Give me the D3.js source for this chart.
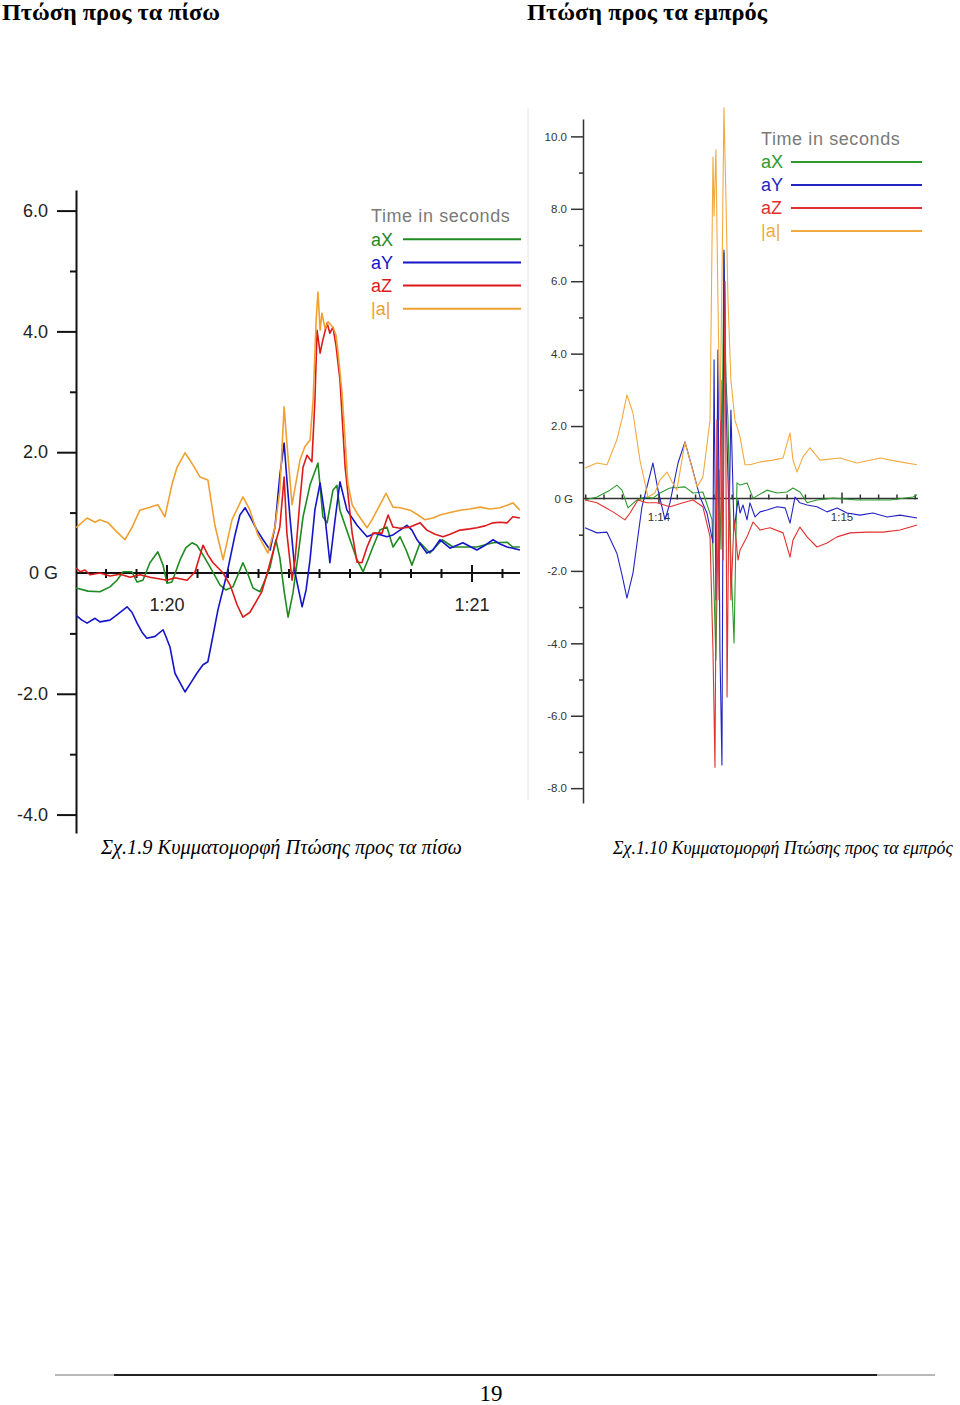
<!DOCTYPE html>
<html><head><meta charset="utf-8">
<script src="https://cdn.jsdelivr.net/npm/d3@7"></script>
<style>body{margin:0;background:#fff}svg{display:block}</style>
</head><body>
<svg id="c" width="960" height="1405"></svg>
<script>
// ---------------- DATA ----------------
const titles = ["Πτώση προς τα πίσω", "Πτώση προς τα εμπρός"];
const captions = ["Σχ.1.9 Κυμματομορφή Πτώσης προς τα πίσω", "Σχ.1.10 Κυμματομορφή Πτώσης προς τα εμπρός"];
const pageNumber = "19";
const legendTitle = "Time in seconds";
const seriesNames = ["aX", "aY", "aZ", "|a|"];

// Left chart (backward fall): y ticks, x ticks (seconds)
const backYMajor = [-4, -2, 2, 4, 6];
const backYLabels = ["-4.0", "-2.0", "2.0", "4.0", "6.0"];
const backYMinor = [-3, -1, 1, 3, 5];
const backXMajor = [80, 81];
const backXLabels = ["1:20", "1:21"];
const backXMinor = [79.8, 79.9, 80.1, 80.2, 80.3, 80.4, 80.5, 80.6, 80.7, 80.8, 80.9, 81.1];

// Right chart (forward fall)
const frontYMajor = [-8, -6, -4, -2, 2, 4, 6, 8, 10];
const frontYLabels = ["-8.0", "-6.0", "-4.0", "-2.0", "2.0", "4.0", "6.0", "8.0", "10.0"];
const frontYMinor = [-7, -5, -3, -1, 1, 3, 5, 7, 9];
const frontXMajor = [74, 75];
const frontXLabels = ["1:14", "1:15"];
const frontXMinor = [73.6, 73.7, 73.8, 73.9, 74.1, 74.2, 74.3, 74.4, 74.5, 74.6, 74.7, 74.8, 74.9, 75.1, 75.2, 75.3, 75.4];

// Series: [time (s), acceleration (G)]
const backAX = [[79.702,-0.25],[79.741,-0.30],[79.780,-0.31],[79.813,-0.23],[79.836,-0.12],[79.856,0.02],[79.885,0.02],[79.902,-0.15],[79.921,-0.12],[79.944,0.17],[79.970,0.35],[79.987,0.13],[80.000,-0.17],[80.016,-0.15],[80.043,0.22],[80.062,0.42],[80.082,0.50],[80.098,0.46],[80.118,0.30],[80.141,0.10],[80.174,-0.20],[80.193,-0.28],[80.216,-0.23],[80.249,0.17],[80.266,-0.03],[80.282,-0.25],[80.305,-0.31],[80.321,-0.12],[80.338,0.10],[80.357,0.55],[80.370,0.25],[80.384,-0.30],[80.397,-0.73],[80.413,-0.33],[80.430,0.30],[80.446,0.93],[80.469,1.46],[80.495,1.82],[80.511,0.93],[80.525,0.83],[80.544,1.37],[80.557,1.45],[80.567,1.04],[80.600,0.55],[80.623,0.22],[80.643,0.02],[80.659,0.22],[80.675,0.43],[80.698,0.71],[80.721,0.76],[80.741,0.43],[80.764,0.60],[80.784,0.38],[80.803,0.13],[80.830,0.50],[80.862,0.33],[80.902,0.55],[80.938,0.43],[80.977,0.43],[81.016,0.43],[81.069,0.50],[81.115,0.51],[81.134,0.43],[81.157,0.43]];
const backAY = [[79.702,-0.70],[79.721,-0.78],[79.738,-0.83],[79.764,-0.75],[79.780,-0.81],[79.813,-0.78],[79.839,-0.68],[79.869,-0.56],[79.885,-0.65],[79.902,-0.83],[79.918,-0.98],[79.934,-1.08],[79.961,-1.05],[79.987,-0.94],[79.997,-1.06],[80.010,-1.23],[80.026,-1.66],[80.043,-1.82],[80.059,-1.97],[80.079,-1.81],[80.098,-1.66],[80.118,-1.52],[80.134,-1.47],[80.148,-1.11],[80.167,-0.61],[80.197,0.00],[80.223,0.63],[80.239,0.96],[80.256,1.08],[80.275,0.91],[80.295,0.71],[80.315,0.55],[80.338,0.38],[80.354,0.76],[80.370,1.62],[80.384,2.15],[80.393,1.55],[80.403,0.93],[80.420,0.00],[80.443,-0.56],[80.456,-0.28],[80.469,0.22],[80.485,1.05],[80.502,1.49],[80.518,0.93],[80.534,0.17],[80.551,0.88],[80.567,1.51],[80.590,1.04],[80.623,0.79],[80.656,0.60],[80.682,0.66],[80.721,0.60],[80.741,0.63],[80.764,0.71],[80.787,0.79],[80.803,0.71],[80.820,0.55],[80.852,0.33],[80.872,0.38],[80.895,0.55],[80.928,0.41],[80.970,0.50],[81.016,0.38],[81.043,0.46],[81.069,0.55],[81.092,0.48],[81.115,0.43],[81.134,0.41],[81.157,0.38]];
const backAZ = [[79.702,0.08],[79.715,0.02],[79.731,0.05],[79.748,-0.03],[79.780,0.00],[79.813,-0.05],[79.846,-0.02],[79.879,-0.07],[79.911,-0.03],[79.944,-0.07],[79.977,-0.10],[80.000,-0.12],[80.026,-0.08],[80.066,-0.12],[80.092,0.02],[80.118,0.46],[80.134,0.30],[80.151,0.17],[80.184,0.00],[80.207,-0.20],[80.230,-0.53],[80.249,-0.73],[80.272,-0.65],[80.295,-0.45],[80.311,-0.31],[80.338,0.17],[80.370,0.76],[80.384,1.59],[80.393,0.66],[80.410,-0.12],[80.420,0.22],[80.436,1.21],[80.446,1.75],[80.459,1.95],[80.475,1.84],[80.485,2.86],[80.492,4.02],[80.502,3.64],[80.511,3.86],[80.525,4.14],[80.534,3.97],[80.544,4.07],[80.554,3.77],[80.567,3.20],[80.584,1.75],[80.607,0.66],[80.623,0.18],[80.639,0.17],[80.656,0.43],[80.675,0.66],[80.705,0.66],[80.725,0.96],[80.741,0.76],[80.764,0.74],[80.797,0.76],[80.830,0.83],[80.852,0.71],[80.879,0.64],[80.905,0.60],[80.928,0.64],[80.961,0.71],[80.993,0.73],[81.016,0.75],[81.043,0.78],[81.069,0.83],[81.092,0.84],[81.115,0.83],[81.134,0.93],[81.157,0.91]];
const backA = [[79.702,0.75],[79.738,0.91],[79.764,0.84],[79.780,0.88],[79.807,0.83],[79.830,0.71],[79.862,0.55],[79.885,0.75],[79.911,1.04],[79.944,1.09],[79.970,1.13],[79.993,0.93],[80.016,1.46],[80.033,1.75],[80.059,1.99],[80.085,1.79],[80.108,1.59],[80.134,1.54],[80.157,0.79],[80.184,0.22],[80.213,0.88],[80.249,1.26],[80.272,1.04],[80.298,0.63],[80.331,0.33],[80.354,0.76],[80.370,1.37],[80.384,2.75],[80.393,2.15],[80.410,1.13],[80.436,1.87],[80.452,2.09],[80.469,2.20],[80.479,2.86],[80.489,4.19],[80.495,4.65],[80.502,4.02],[80.508,4.30],[80.518,4.05],[80.528,4.16],[80.544,4.07],[80.554,3.94],[80.561,3.64],[80.574,2.98],[80.584,2.20],[80.593,1.49],[80.607,1.13],[80.623,0.99],[80.656,0.75],[80.672,0.88],[80.689,1.04],[80.718,1.32],[80.741,1.09],[80.764,1.08],[80.797,1.04],[80.823,0.96],[80.846,0.88],[80.872,0.91],[80.895,0.96],[80.928,1.00],[80.961,1.04],[80.993,1.06],[81.026,1.09],[81.059,1.06],[81.092,1.08],[81.115,1.12],[81.134,1.16],[81.148,1.09],[81.157,1.04]];

const frontAX = [[73.596,-0.04],[73.661,0.04],[73.732,0.23],[73.770,0.37],[73.798,0.23],[73.831,-0.26],[73.880,-0.04],[73.923,0.04],[73.967,0.01],[74.005,0.15],[74.060,0.29],[74.142,0.32],[74.186,0.15],[74.240,0.18],[74.290,-0.59],[74.311,-4.46],[74.328,0.79],[74.339,-1.40],[74.355,6.78],[74.366,3.27],[74.377,2.17],[74.393,-1.70],[74.410,-3.99],[74.426,0.43],[74.443,0.37],[74.481,0.43],[74.514,0.01],[74.590,0.23],[74.645,0.15],[74.699,0.18],[74.732,0.29],[74.770,0.18],[74.809,-0.12],[74.863,-0.04],[74.951,0.01],[75.082,-0.04],[75.262,-0.04],[75.388,0.04],[75.410,0.10]];
const frontAY = [[73.596,-0.81],[73.661,-0.95],[73.716,-0.93],[73.770,-1.51],[73.798,-2.11],[73.825,-2.75],[73.858,-2.06],[73.907,-0.23],[73.967,0.98],[73.995,0.23],[74.033,-0.59],[74.060,-0.12],[74.104,0.98],[74.142,1.56],[74.180,0.87],[74.224,0.04],[74.262,-0.40],[74.295,-1.23],[74.301,3.83],[74.311,-2.80],[74.322,4.10],[74.333,-4.19],[74.344,-7.36],[74.355,6.86],[74.366,2.72],[74.383,-0.59],[74.393,2.44],[74.410,-0.87],[74.432,-0.04],[74.443,-0.40],[74.459,-0.18],[74.481,-0.59],[74.497,-0.12],[74.525,-0.51],[74.552,-0.37],[74.590,-0.32],[74.645,-0.23],[74.689,-0.26],[74.716,-0.68],[74.743,0.04],[74.770,-0.12],[74.809,-0.18],[74.863,-0.23],[74.918,-0.37],[74.973,-0.26],[75.027,-0.40],[75.098,-0.46],[75.169,-0.40],[75.246,-0.51],[75.317,-0.46],[75.410,-0.54]];
const frontAZ = [[73.596,-0.04],[73.661,-0.12],[73.749,-0.37],[73.814,-0.59],[73.842,-0.40],[73.885,-0.04],[73.934,-0.12],[73.989,-0.12],[74.060,-0.23],[74.131,-0.12],[74.186,-0.04],[74.240,-0.23],[74.279,-1.06],[74.295,-4.18],[74.306,-7.42],[74.317,2.17],[74.328,-2.80],[74.339,3.27],[74.350,-1.70],[74.361,6.0],[74.372,-5.48],[74.383,0.51],[74.393,-2.80],[74.410,-0.59],[74.432,-1.70],[74.443,-1.42],[74.481,-1.06],[74.514,-0.65],[74.552,-0.87],[74.607,-0.81],[74.678,-0.95],[74.716,-1.62],[74.732,-1.15],[74.770,-0.79],[74.809,-1.06],[74.863,-1.34],[74.918,-1.23],[74.973,-1.06],[75.044,-0.95],[75.137,-0.93],[75.224,-0.93],[75.317,-0.87],[75.410,-0.73]];
const frontA = [[73.596,0.84],[73.661,0.98],[73.716,0.93],[73.770,1.62],[73.798,2.20],[73.825,2.86],[73.858,2.36],[73.896,1.06],[73.940,0.04],[73.978,0.15],[74.005,0.51],[74.044,0.73],[74.071,0.46],[74.098,0.23],[74.142,1.56],[74.169,1.06],[74.208,0.32],[74.240,0.59],[74.279,2.17],[74.295,9.43],[74.301,7.8],[74.311,9.63],[74.322,5.48],[74.333,2.17],[74.344,6.0],[74.355,10.79],[74.366,8.25],[74.377,5.48],[74.393,3.27],[74.415,2.17],[74.432,1.89],[74.443,1.70],[74.470,0.93],[74.497,0.93],[74.552,1.01],[74.623,1.06],[74.678,1.12],[74.716,1.81],[74.732,1.06],[74.754,0.73],[74.787,1.15],[74.825,1.40],[74.880,1.06],[74.989,1.12],[75.082,0.98],[75.208,1.12],[75.317,1.01],[75.410,0.93]];

// ---------------- DRAW ----------------
const svg = d3.select('#c');
const colorsBack = ["#1f8a1f", "#1414c8", "#dd1a1a", "#f0a030"];
const colorsFront = ["#2e9a2e", "#2424c4", "#e23030", "#f2aa40"];

// titles
svg.append('text').attr('x', 2).attr('y', 20).attr('font-family', 'Liberation Serif').attr('font-weight', 'bold')
  .attr('font-size', 24).attr('textLength', 218).attr('lengthAdjust', 'spacingAndGlyphs').text(titles[0]);
svg.append('text').attr('x', 527).attr('y', 20).attr('font-family', 'Liberation Serif').attr('font-weight', 'bold')
  .attr('font-size', 24).attr('textLength', 240).attr('lengthAdjust', 'spacingAndGlyphs').text(titles[1]);

// separator between pictures
svg.append('line').attr('x1', 528).attr('x2', 528).attr('y1', 108).attr('y2', 800).attr('stroke', '#e4e4e4').attr('stroke-width', 1);

function panel(cfg) {
  const g = svg.append('g');
  const x = d3.scaleLinear().domain(cfg.xDomain).range(cfg.xRange);
  const y = d3.scaleLinear().domain(cfg.yDomain).range(cfg.yRange);
  const y0 = y(0);

  const ax = g.append('g').attr('transform', `translate(${cfg.xRange[0]},0)`)
    .call(d3.axisLeft(y).tickValues(cfg.yMajor).tickFormat((d, i) => cfg.yLabels[i])
      .tickSize(cfg.majorTick).tickSizeOuter(0).tickPadding(cfg.pad));
  ax.select('.domain').attr('stroke', cfg.axisColor).attr('stroke-width', cfg.axisW);
  ax.selectAll('.tick line').attr('stroke', cfg.axisColor).attr('stroke-width', cfg.axisW);
  ax.selectAll('.tick text').attr('font-family', 'Liberation Sans').attr('font-size', cfg.labelSize).attr('fill', cfg.labelColor);
  const mn = g.append('g').attr('transform', `translate(${cfg.xRange[0]},0)`)
    .call(d3.axisLeft(y).tickValues(cfg.yMinor).tickFormat('').tickSize(cfg.minorTick).tickSizeOuter(0));
  mn.select('.domain').remove();
  mn.selectAll('.tick line').attr('stroke', cfg.axisColor).attr('stroke-width', cfg.axisW);
  g.append('text').attr('x', cfg.zeroLabelX).attr('y', y0).attr('dy', '0.35em').attr('text-anchor', 'end')
    .attr('font-family', 'Liberation Sans').attr('font-size', cfg.labelSize).attr('fill', cfg.labelColor).text('0 G');

  g.append('line').attr('x1', cfg.xRange[0]).attr('x2', cfg.xRange[1]).attr('y1', y0).attr('y2', y0)
    .attr('stroke', cfg.axisColor).attr('stroke-width', cfg.axisW);
  g.selectAll(null).data(cfg.xMinor).join('line')
    .attr('x1', d => x(d)).attr('x2', d => x(d)).attr('y1', y0 - cfg.xMinorUp).attr('y2', y0 + cfg.xMinorDown)
    .attr('stroke', cfg.axisColor).attr('stroke-width', cfg.axisW);
  g.selectAll(null).data(cfg.xMajor).join('line')
    .attr('x1', d => x(d)).attr('x2', d => x(d)).attr('y1', y0 - cfg.xMajorUp).attr('y2', y0 + cfg.xMajorDown)
    .attr('stroke', cfg.axisColor).attr('stroke-width', cfg.axisW);
  g.selectAll(null).data(cfg.xMajor).join('text')
    .attr('x', d => x(d)).attr('y', y0 + cfg.xLabelDy).attr('text-anchor', 'middle')
    .attr('font-family', 'Liberation Sans').attr('font-size', cfg.xLabelSize).attr('fill', cfg.labelColor)
    .text((d, i) => cfg.xLabels[i]);

  const line = d3.line().x(d => x(d[0])).y(d => y(d[1]));
  cfg.series.forEach((s, i) => {
    g.append('path').datum(s).attr('d', line).attr('fill', 'none')
      .attr('stroke', cfg.colors[i]).attr('stroke-width', cfg.lineW).attr('stroke-linejoin', 'round');
  });

  const lg = g.append('g');
  lg.append('text').attr('x', cfg.legX).attr('y', cfg.legY).attr('dy', '0.35em').attr('letter-spacing', 0.6)
    .attr('font-family', 'Liberation Sans').attr('font-size', 18).attr('fill', '#7a7a7a').text(legendTitle);
  seriesNames.forEach((n, i) => {
    const yy = cfg.legY + (i + 1) * cfg.legStep;
    lg.append('text').attr('x', cfg.legX).attr('y', yy).attr('dy', '0.35em')
      .attr('font-family', 'Liberation Sans').attr('font-size', 18).attr('fill', cfg.colors[i]).text(n);
    lg.append('line').attr('x1', cfg.legLine[0]).attr('x2', cfg.legLine[1]).attr('y1', yy).attr('y2', yy)
      .attr('stroke', cfg.colors[i]).attr('stroke-width', 2);
  });
}

panel({
  xDomain: [79.7016, 81.1574], xRange: [76, 520],
  yDomain: [-4.305, 6.341], yRange: [833, 190],
  yMajor: backYMajor, yLabels: backYLabels, yMinor: backYMinor,
  xMajor: backXMajor, xLabels: backXLabels, xMinor: backXMinor,
  majorTick: 19, minorTick: 6, pad: 9, axisW: 2, axisColor: '#111', labelSize: 18, labelColor: '#222',
  zeroLabelX: 58, xMinorUp: 4, xMinorDown: 5, xMajorUp: 8, xMajorDown: 9, xLabelDy: 38, xLabelSize: 18,
  series: [backAX, backAY, backAZ, backA], colors: colorsBack, lineW: 1.6,
  legX: 371, legY: 216, legStep: 23.2, legLine: [403, 521]
});

panel({
  xDomain: [73.585, 75.415], xRange: [583, 918],
  yDomain: [-8.41, 10.48], yRange: [803, 119],
  yMajor: frontYMajor, yLabels: frontYLabels, yMinor: frontYMinor,
  xMajor: frontXMajor, xLabels: frontXLabels, xMinor: frontXMinor,
  majorTick: 12, minorTick: 4, pad: 4, axisW: 1.5, axisColor: '#333', labelSize: 11.5, labelColor: '#333',
  zeroLabelX: 573, xMinorUp: 4, xMinorDown: 1, xMajorUp: 6, xMajorDown: 5, xLabelDy: 23, xLabelSize: 11.5,
  series: [frontAX, frontAY, frontAZ, frontA], colors: colorsFront, lineW: 1.1,
  legX: 761, legY: 139, legStep: 23, legLine: [791, 922]
});

// captions: font size fitted so the natural text width matches the target width
function fitText(str, x, y, targetW) {
  const t = svg.append('text').attr('x', x).attr('y', y).attr('font-family', 'Liberation Serif')
    .attr('font-style', 'italic').attr('font-size', 20).text(str);
  const w = t.node().getComputedTextLength();
  t.attr('font-size', 20 * targetW / w);
}
fitText(captions[0], 101, 854, 361);
fitText(captions[1], 613, 854, 340);

// footer
svg.append('line').attr('x1', 55).attr('x2', 935).attr('y1', 1375).attr('y2', 1375).attr('stroke', '#b8b8b8').attr('stroke-width', 2);
svg.append('line').attr('x1', 114).attr('x2', 877).attr('y1', 1375).attr('y2', 1375).attr('stroke', '#222').attr('stroke-width', 2);
svg.append('text').attr('x', 491).attr('y', 1401).attr('text-anchor', 'middle').attr('font-family', 'Liberation Serif')
  .attr('font-size', 23).text(pageNumber);
</script>
</body></html>
